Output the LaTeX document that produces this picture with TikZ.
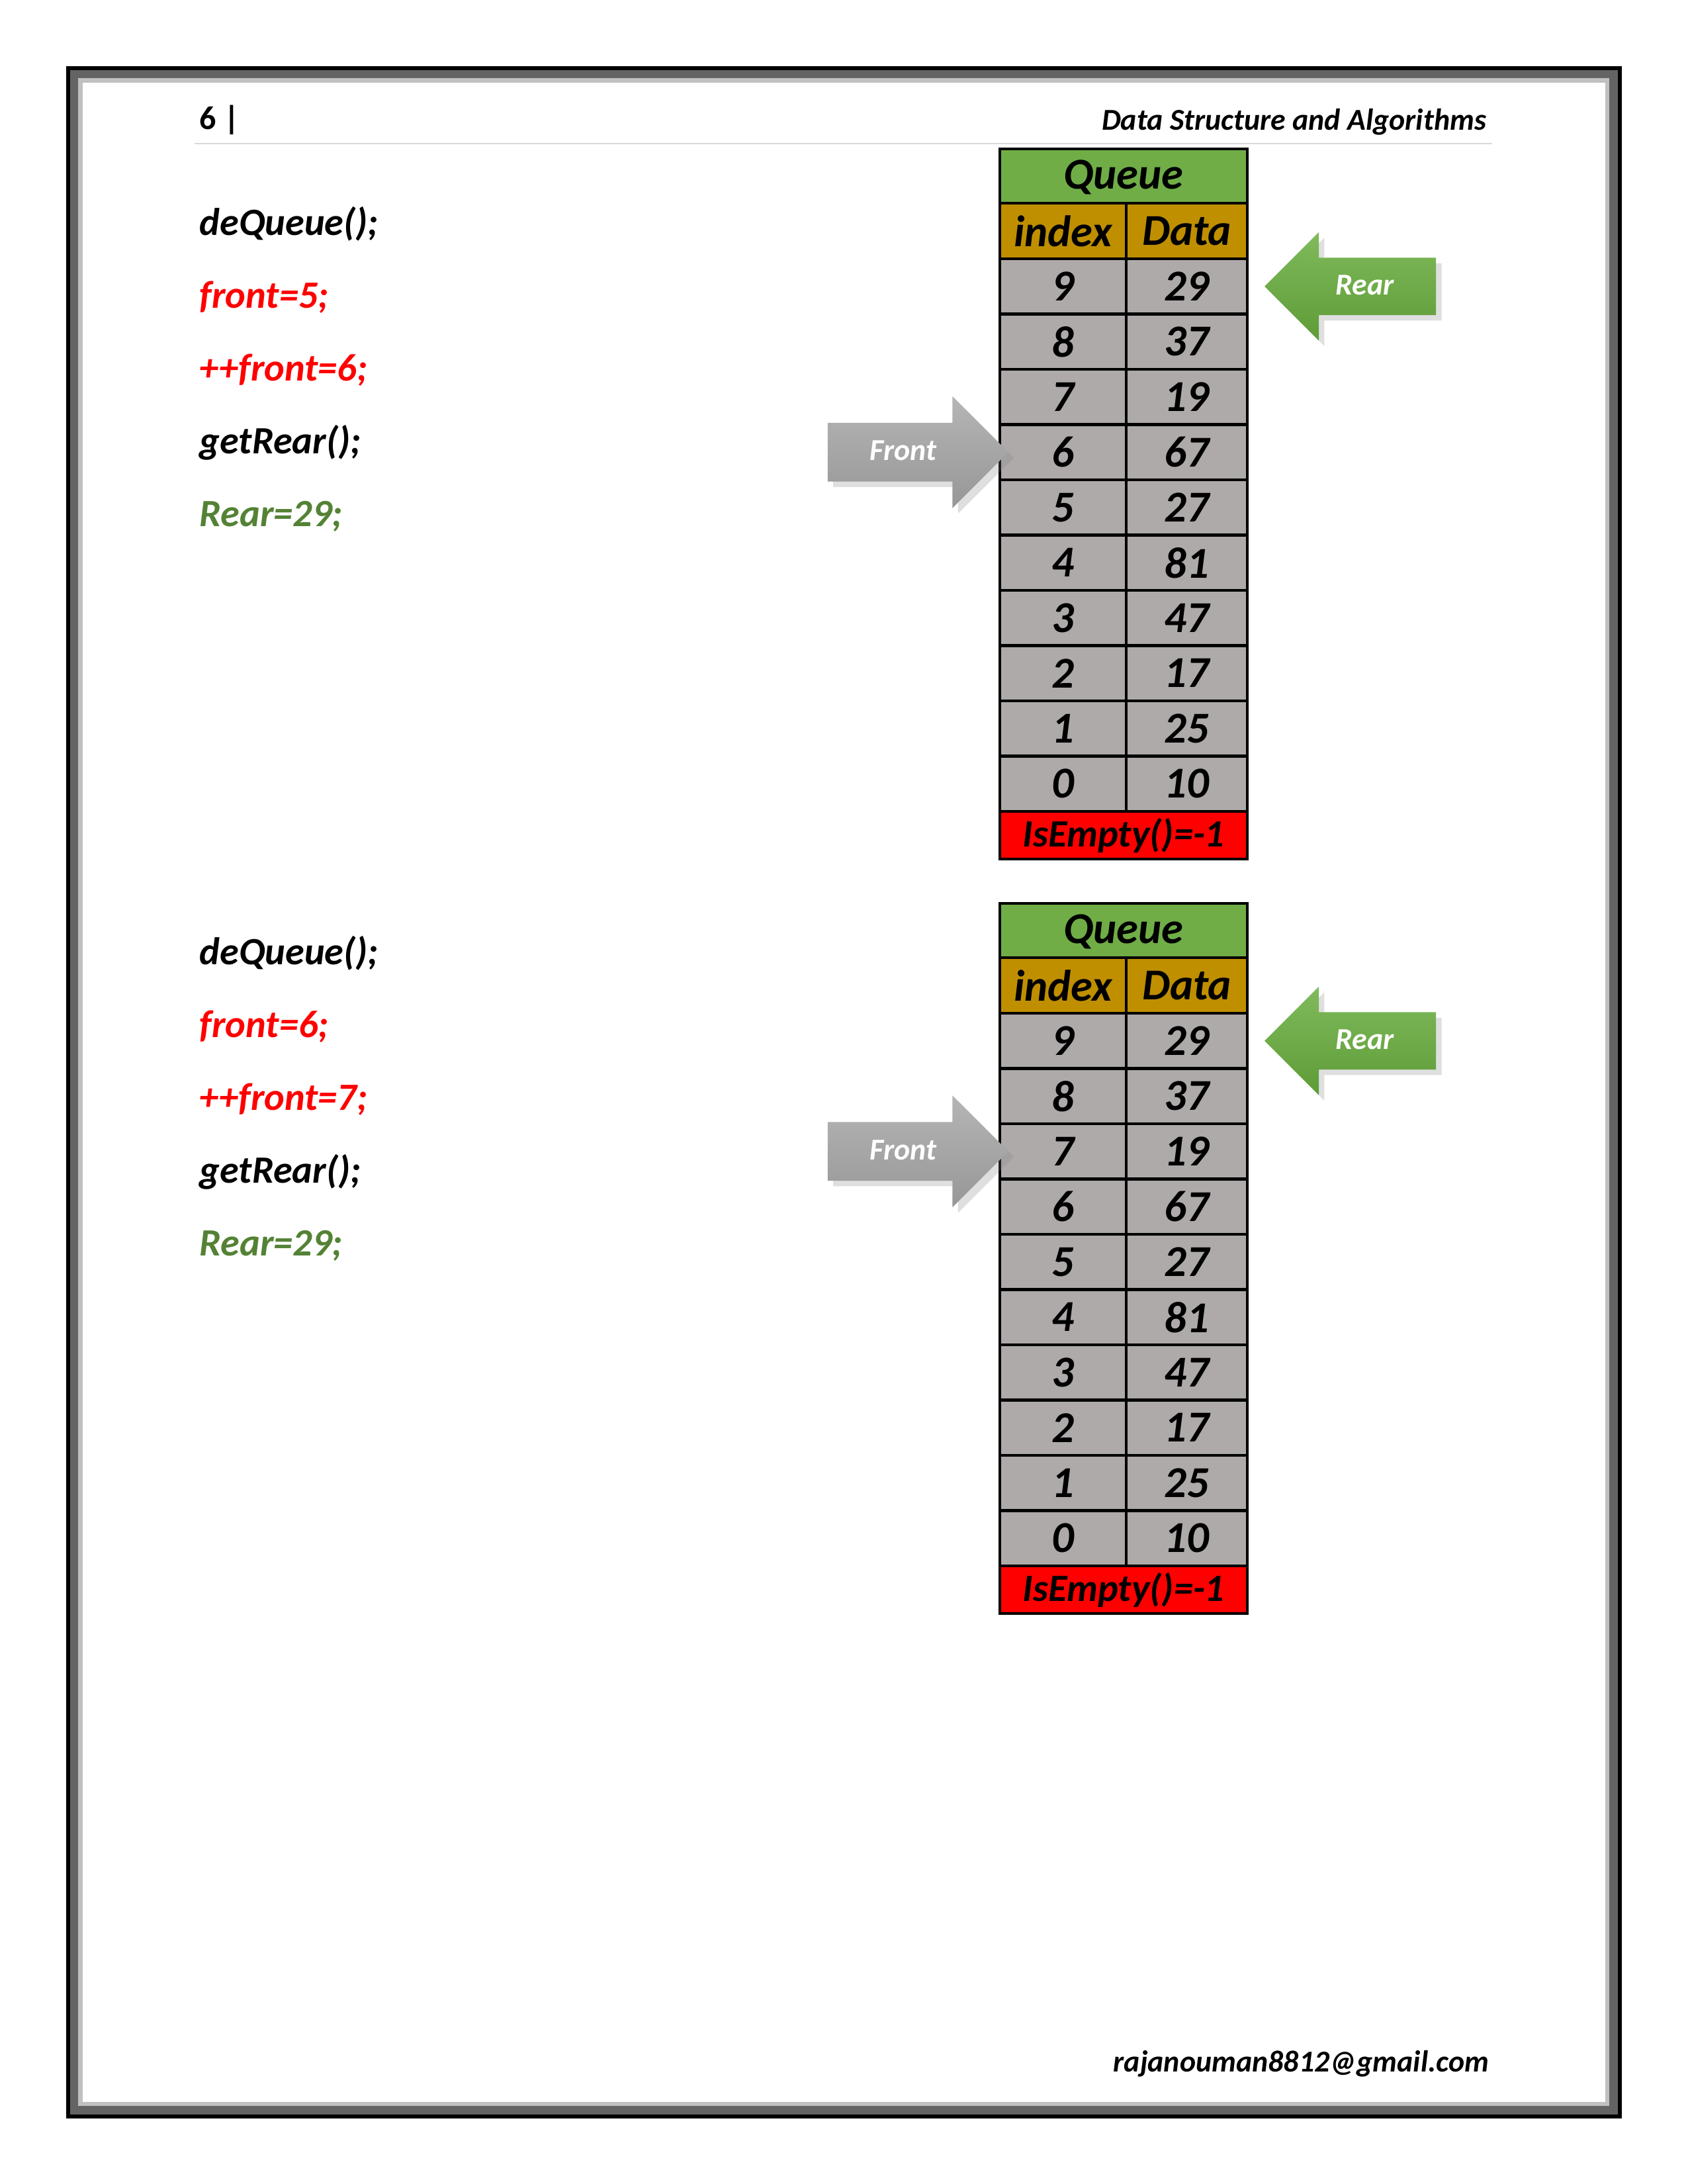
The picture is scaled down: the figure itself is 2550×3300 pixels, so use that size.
\documentclass[tikz,border=0pt]{standalone}
\usepackage{fontspec}
\setmainfont{Carlito}
\usetikzlibrary{positioning, shapes.arrows, shadows}

\definecolor{qgreen}{HTML}{70AD47}
\definecolor{qgold}{HTML}{BF8F00}
\definecolor{qgray}{HTML}{AEAAAA}
\definecolor{codegreen}{HTML}{548235}
\definecolor{framedark}{HTML}{646464}
\definecolor{framelight}{HTML}{C0C0C0}
\definecolor{rulegray}{HTML}{D9D9D9}
\definecolor{reartop}{HTML}{80BA5C}
\definecolor{rearbot}{HTML}{5E9C37}
\definecolor{fronttop}{HTML}{B5B5B5}
\definecolor{frontbot}{HTML}{979797}

\begin{document}
\begin{tikzpicture}[
            x=0.24pt, y=-0.24pt,
            cell/.style = {draw, line width=1pt, fill=qgray, inner sep=0pt, outer sep=0pt,
                anchor=north west, font=\fontsize{16}{19}\selectfont\bfseries\itshape},
            code/.style = {anchor=base west, inner sep=0pt,
                font=\fontsize{14}{17}\selectfont\bfseries\itshape},
            hdr/.style = {inner sep=0pt, font=\fontsize{11}{13}\selectfont\bfseries\itshape},
            ptr/.style = {single arrow, inner xsep=0pt, text height=8pt, text depth=2pt,
                text=white, font=\fontsize{11}{13}\selectfont\bfseries\itshape,
                drop shadow={opacity=0.25, shadow xshift=2pt, shadow yshift=-2pt}}]
            \def\pxu{0.24pt}
            \useasboundingbox (0,0) rectangle (2550,3300);
            % page frame
            \fill (100,100) rectangle (2451,3201);
            \fill[framedark] (106,106) rectangle (2445,3195);
            \fill[framelight] (118,118) rectangle (2432,3182);
            \fill[white] (125,125) rectangle (2426,3176);
            % header and footer
            \node[hdr, anchor=base west, font=\fontsize{12}{14}\selectfont\bfseries] (pagenum) at (301,195) {6 |};
            \node[hdr, anchor=base east] (booktitle) at (2247,196) {Data Structure and Algorithms};
            \draw[rulegray, line width=0.4pt] (294,217) -- (2255,217);
            \node[hdr, anchor=base east] (email) at (2251,3130) {rajanouman8812@gmail.com};
            % two queue snapshots
            \foreach \b/\ty/\cy/\fr/\fa/\fb in {1/225/355/3/5/6, 2/1365/1457/2/6/7} {
                \node[code] (c\b-1) at (301,\cy) {deQueue();};
                \node[code, text=red] (c\b-2) at (301,\cy+110) {front=\fa;};
                \node[code, text=red] (c\b-3) at (301,\cy+220) {++front=\fb;};
                \node[code] (c\b-4) at (301,\cy+330) {getRear();};
                \node[code, text=codegreen] (c\b-5) at (301,\cy+440) {Rear=29;};
                \node[cell, fill=qgreen, minimum width=374*\pxu, minimum height=82*\pxu,
                    text depth=1pt] (q\b) at (1511,\ty) {Queue};
                \node[cell, fill=qgold, minimum width=191*\pxu, minimum height=84*\pxu] (hi\b) at (1511,\ty+82) {index};
                \node[cell, fill=qgold, minimum width=183*\pxu, minimum height=84*\pxu] (hd\b) at (1702,\ty+82) {Data};
                \foreach \v [count=\k from 0] in {29,37,19,67,27,81,47,17,25,10} {
                    \pgfmathtruncatemacro\idx{9-\k}
                    \node[cell, minimum width=191*\pxu, minimum height=83.5*\pxu] (i\b-\k) at (1511,\ty+166+83.5*\k) {\idx};
                    \node[cell, minimum width=183*\pxu, minimum height=83.5*\pxu] (d\b-\k) at (1702,\ty+166+83.5*\k) {\v};
                }
                \node[cell, fill=red, minimum width=374*\pxu, minimum height=72*\pxu,
                    font=\fontsize{14}{17}\selectfont\bfseries\itshape] (e\b) at (1511,\ty+1001) {IsEmpty()=-1};
                \node[ptr, shape border rotate=180, top color=reartop, bottom color=rearbot,
                    anchor=tip, inner ysep=5.2pt, single arrow head extend=38.5*\pxu,
                    minimum height=259*\pxu] (rear\b) at ([xshift=25*\pxu]d\b-0.east) {Rear};
                \node[ptr, top color=fronttop, bottom color=frontbot, anchor=tip,
                    inner ysep=5.45pt, single arrow head extend=40*\pxu,
                    minimum height=273*\pxu] (front\b) at ([xshift=14*\pxu]i\b-\fr.west) {Front};
            }
        \end{tikzpicture}
\end{document}
